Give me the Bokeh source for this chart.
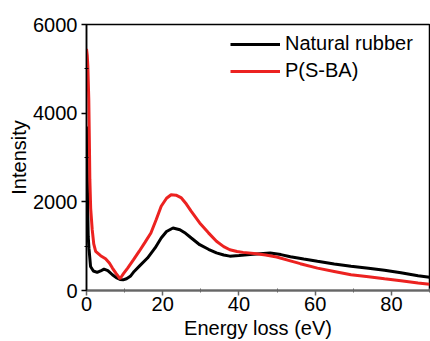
from bokeh.plotting import figure
from bokeh.models import Range1d, FixedTicker, Legend, LegendItem
from bokeh.embed import file_html
from bokeh.resources import INLINE

# ---- data ----
energy_nr = [0.0, 0.1, 0.2, 0.3, 0.45, 0.65, 1.06, 1.8, 2.8, 3.7, 4.6, 5.6, 6.8, 7.8,
             8.8, 9.6, 10.5, 11.5, 12.5, 14, 16, 18, 19.6, 21, 22.7, 24.5, 26, 27.5, 29.7,
             32, 34.1, 36, 37.6, 40, 42.9, 45.5, 48.2, 51, 53.5, 57, 60.6, 65, 69.4, 74,
             78.2, 82.5, 87, 90]
intensity_nr = [3700, 3300, 2600, 1900, 1220, 950, 543, 440, 407, 440, 483, 450, 355, 290,
                250, 240, 265, 320, 430, 560, 732, 960, 1184, 1330, 1410, 1370, 1290, 1184,
                1033, 930, 850, 800, 775, 790, 810, 830, 845, 810, 760, 710, 660, 600, 545,
                500, 455, 400, 335, 300]

energy_ps = [0.0, 0.2, 0.35, 0.6, 0.75, 0.88, 1.1, 1.5, 1.9, 2.4, 3.7, 5.0, 6.0, 6.8, 7.8,
             8.8, 9.7, 10.8, 12.3, 13.8, 15.3, 16.9, 18.3, 19.6, 21, 22.2, 23.5, 24.9, 26.2,
             27.5, 29.7, 32, 34.1, 36, 37.6, 39.5, 41.1, 44.6, 47, 49.9, 53, 56.1, 60.6, 65,
             69.4, 74, 78.2, 82.5, 87, 90]
intensity_ps = [5450, 5300, 5060, 4310, 3400, 2500, 1850, 1372, 1050, 881, 785, 716, 620,
                506, 380, 265, 380, 506, 690, 881, 1080, 1297, 1600, 1900, 2080, 2160, 2150,
                2088, 1950, 1785, 1523, 1300, 1110, 990, 920, 880, 860, 830, 800, 755, 680,
                605, 505, 430, 355, 310, 265, 220, 170, 140]

x_ticks = [0, 20, 40, 60, 80]
x_minor = [10, 30, 50, 70, 90]
y_ticks = [0, 2000, 4000, 6000]
y_minor = [1000, 3000, 5000]

FONT = "Liberation Sans"

p = figure(width=430, height=341, output_backend="svg", toolbar_location=None,
           x_range=Range1d(0, 90), y_range=Range1d(0, 6000),
           min_border_left=86, min_border_right=1, min_border_top=24, min_border_bottom=50)
p.grid.visible = False
p.background_fill_color = "white"
p.border_fill_color = "white"
p.outline_line_color = "black"
p.outline_line_width = 1.5

r1 = p.line(energy_nr, intensity_nr, line_color="black", line_width=3)
r2 = p.line(energy_ps, intensity_ps, line_color="#ec2220", line_width=3)

p.xaxis.ticker = FixedTicker(ticks=x_ticks, minor_ticks=x_minor)
p.yaxis.ticker = FixedTicker(ticks=y_ticks, minor_ticks=y_minor)

for ax in (p.xaxis[0], p.yaxis[0]):
    ax.major_label_text_font = FONT
    ax.major_label_text_font_size = "20px"
    ax.major_label_text_color = "black"
    ax.axis_label_text_font = FONT
    ax.axis_label_text_font_size = "20px"
    ax.axis_label_text_font_style = "normal"
    ax.axis_label_text_color = "black"
    ax.major_tick_in = 0
    ax.major_tick_out = 5
    ax.minor_tick_in = 2
    ax.minor_tick_out = 2
    ax.major_tick_line_width = 1.5

p.xaxis.axis_label = "Energy loss (eV)"
p.yaxis.axis_label = "Intensity"
p.xaxis.axis_line_color = "#666666"
p.xaxis.axis_line_width = 2
p.xaxis.major_tick_line_color = "#666666"
p.xaxis.minor_tick_line_color = "#666666"
p.yaxis.axis_line_color = "black"
p.yaxis.axis_line_width = 1.5
p.xaxis.major_label_standoff = 1
p.yaxis.major_label_standoff = 4
p.xaxis.axis_label_standoff = 3
p.yaxis.axis_label_standoff = 0

legend = Legend(items=[LegendItem(label="Natural rubber", renderers=[r1]),
                       LegendItem(label="P(S-BA)", renderers=[r2])],
                location=(144, 208))
legend.border_line_color = None
legend.background_fill_alpha = 0
legend.padding = 0
legend.margin = 0
legend.spacing = 4
legend.glyph_width = 50
legend.label_standoff = 5
legend.label_text_font = FONT
legend.label_text_font_size = "20px"
legend.label_text_color = "black"
p.add_layout(legend, "center")

open("out.html", "w").write(file_html(p, INLINE))
